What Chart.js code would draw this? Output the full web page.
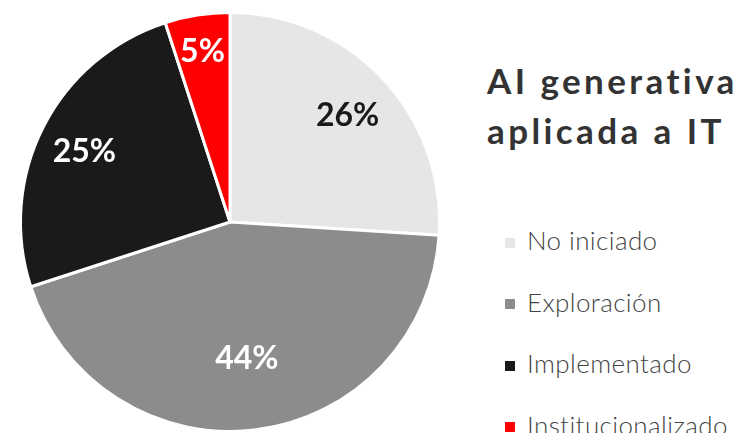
<!DOCTYPE html>
<html>
<head>
<meta charset="utf-8">
<script src="https://cdn.jsdelivr.net/npm/chart.js@4"></script>
<style>
  html, body { margin: 0; padding: 0; background: #fff; }
  body { width: 739px; height: 433px; position: relative; overflow: hidden; font-family: Lato, sans-serif; }
  #wrap { position: absolute; left: 0; top: 0; width: 460px; height: 433px; }
  #title { position: absolute; left: 487px; top: 55px; font-weight: 700; font-size: 35px; line-height: 50px; color: #333; white-space: nowrap; letter-spacing: 3.4px; }
  #legend { position: absolute; left: 505px; top: 218px; margin: 0; padding: 0; list-style: none; }
  #legend li { height: 61.5px; line-height: 44px; font-size: 26px; font-weight: 300; color: #444; white-space: nowrap; letter-spacing: 0.4px; }
  #legend span { display: inline-block; width: 10px; height: 10px; margin-right: 12px; vertical-align: middle; position: relative; top: -1px; }
</style>
</head>
<body>
<div id="wrap"><canvas id="chart"></canvas></div>
<div id="title">AI generativa<br>aplicada a IT</div>
<ul id="legend"></ul>
<script>
var categories = ['No iniciado', 'Exploración', 'Implementado', 'Institucionalizado'];
var shares = [26, 44, 25, 5];
var colors = ['#e6e6e6', '#8c8c8c', '#1a1a1a', '#ff0000'];
var labelColors = ['#1a1a1a', '#ffffff', '#ffffff', '#ffffff'];
var labelRadius = [0.77, 0.64, 0.78, 0.84]; // how far out each label sits

document.addEventListener('DOMContentLoaded', function() {
    var legend = document.getElementById('legend');
    categories.forEach(function(name, i) {
        var li = document.createElement('li');
        li.innerHTML = '<span style="background:' + colors[i] + '"></span>' + name;
        legend.appendChild(li);
    });

    // percentage labels on the slices
    var sliceLabels = {
        id: 'sliceLabels',
        afterDatasetsDraw: function(chart) {
            var ctx = chart.ctx;
            var meta = chart.getDatasetMeta(0);
            ctx.save();
            ctx.font = '700 32px Lato, sans-serif';
            ctx.textAlign = 'center';
            ctx.textBaseline = 'middle';
            meta.data.forEach(function(arc, i) {
                var p = arc.getProps(['x', 'y', 'startAngle', 'endAngle', 'outerRadius'], true);
                var mid = (p.startAngle + p.endAngle) / 2;
                var r = p.outerRadius * labelRadius[i];
                ctx.fillStyle = labelColors[i];
                ctx.fillText(shares[i] + '%', p.x + Math.cos(mid) * r, p.y + Math.sin(mid) * r + 4);
            });
            ctx.restore();
        }
    };

    var canvas = document.getElementById('chart');
    new Chart(canvas.getContext('2d'), {
        type: 'pie',
        data: {
            labels: categories,
            datasets: [{
                data: shares,
                backgroundColor: colors,
                borderColor: '#ffffff',
                borderWidth: 3
            }]
        },
        options: {
            responsive: true,
            maintainAspectRatio: false,
            animation: false,
            layout: { padding: { top: 11, bottom: 0, left: 0, right: 0 } },
            plugins: {
                legend: { display: false },
                tooltip: { enabled: false }
            }
        },
        plugins: [sliceLabels]
    });
});
</script>
</body>
</html>
